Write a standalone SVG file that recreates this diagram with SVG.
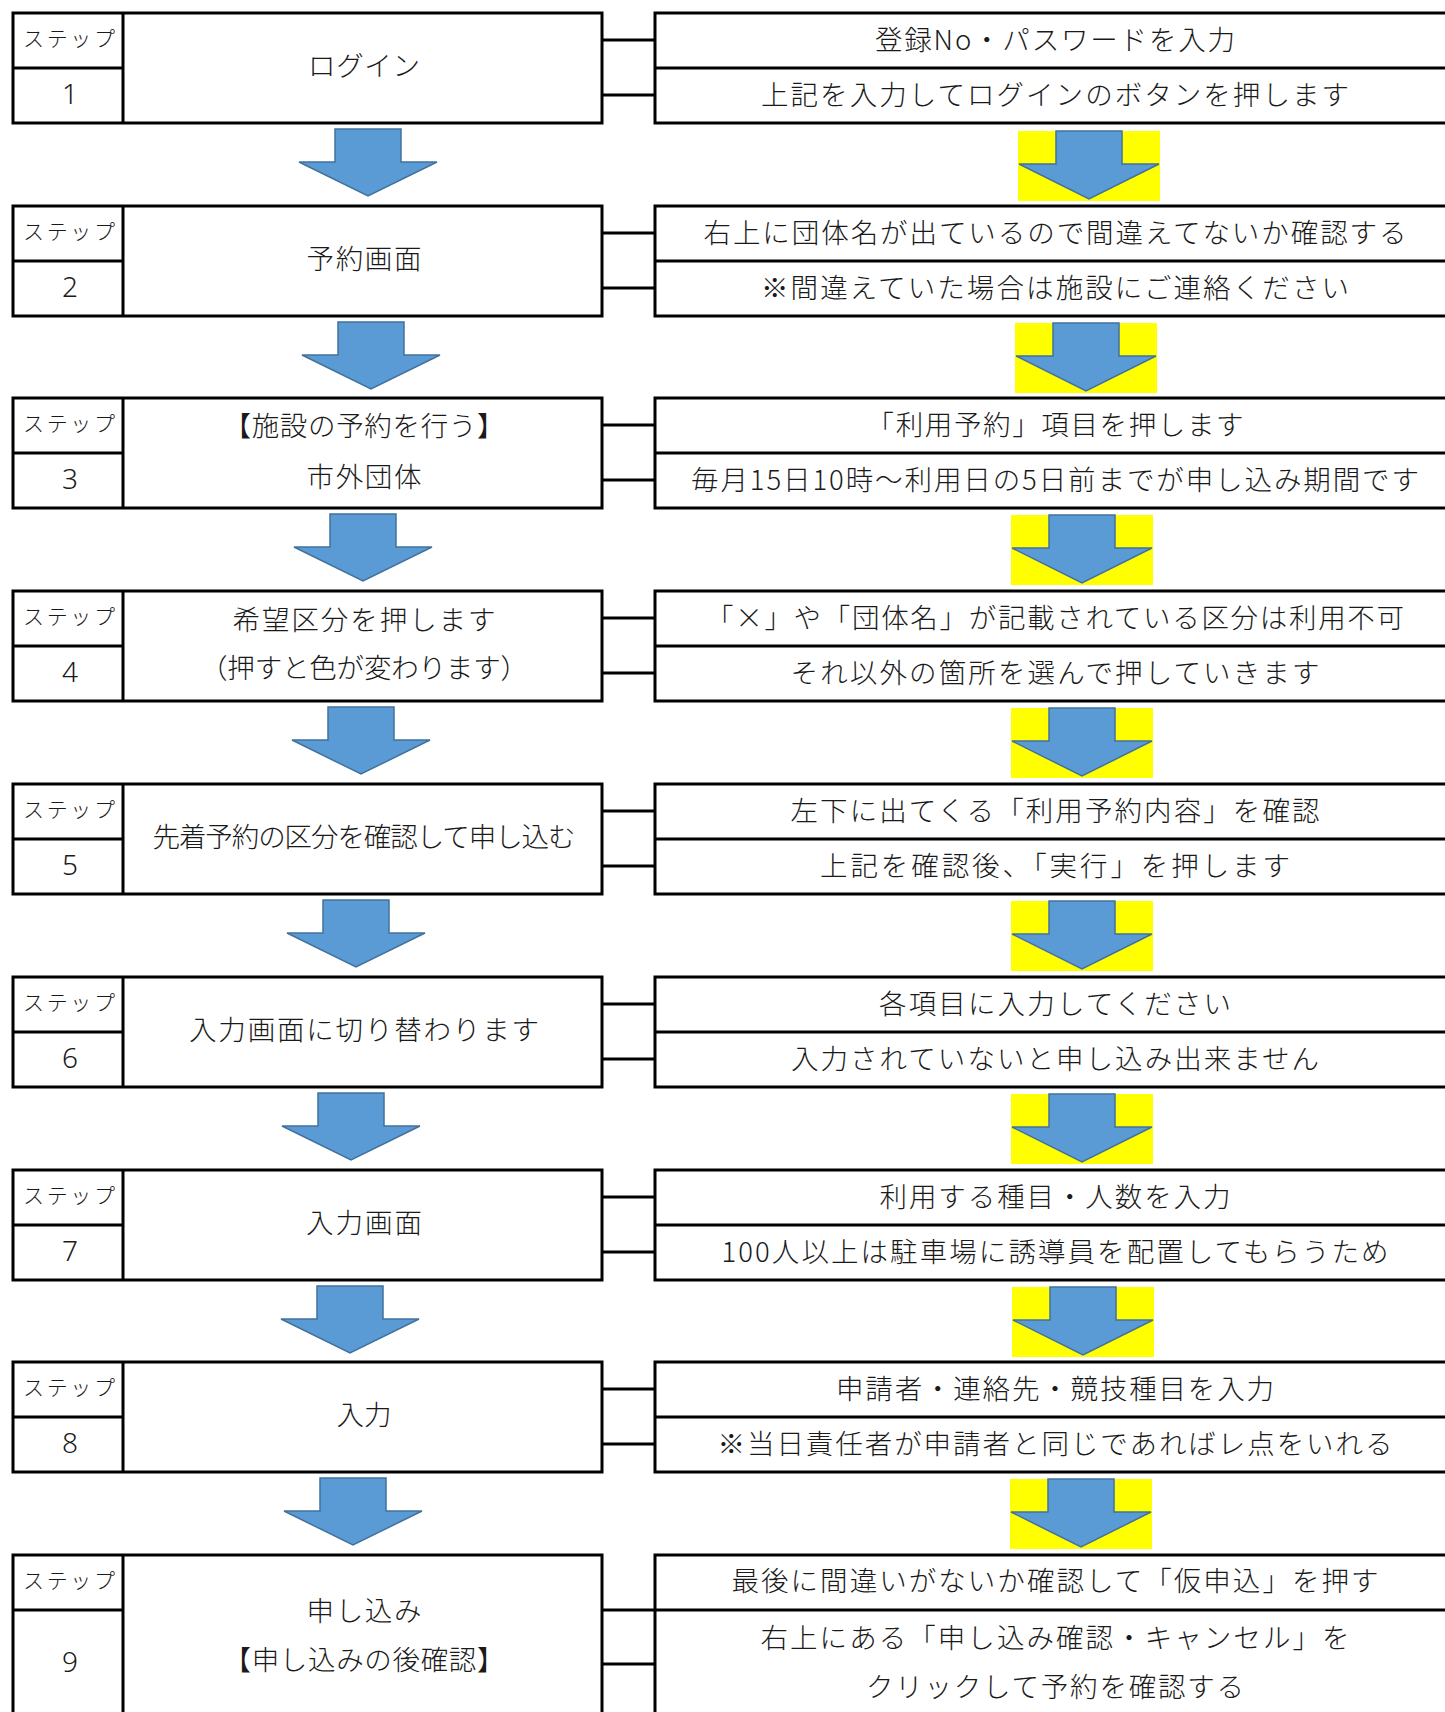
<svg xmlns="http://www.w3.org/2000/svg" width="1445" height="1712" viewBox="0 0 1445 1712">
<style>
.bx{fill:#fff;stroke:#000;stroke-width:3}
.ln{stroke:#000;stroke-width:3;fill:none}
.t{font-family:"Noto Sans CJK JP","Noto Sans",sans-serif;font-size:27.5px;font-weight:300;fill:#1a1a1a;text-anchor:middle;dominant-baseline:central}
.s{font-size:21px}
.n{font-family:"Noto Sans","Noto Sans CJK JP",sans-serif;font-size:28px}
.ar{fill:#5B9BD5;stroke:#41719C;stroke-width:1.5}
.yl{fill:#FFFF00}
</style>
<defs>
<polygon id="arr" class="ar" points="-33,0 33,0 33,33 69,33 0,67 -69,33 -33,33"/>
<g id="yarr"><rect class="yl" x="0" y="0" width="142" height="70"/><polygon class="ar" points="38,0 104,0 104,33 141,33 71,68 1,33 38,33"/></g>
</defs>
<rect width="1445" height="1712" fill="#fff"/>

<g id="connectors">
<path class="ln" d="M602,40H655M602,95H655"/>
<path class="ln" d="M602,233H655M602,288H655"/>
<path class="ln" d="M602,425H655M602,480H655"/>
<path class="ln" d="M602,618H655M602,673H655"/>
<path class="ln" d="M602,811H655M602,866H655"/>
<path class="ln" d="M602,1004H655M602,1059H655"/>
<path class="ln" d="M602,1197H655M602,1252H655"/>
<path class="ln" d="M602,1389H655M602,1444H655"/>
<path class="ln" d="M602,1610H655M602,1664H655"/>
</g>

<g id="arrows">
<use href="#arr" x="368" y="129"/>
<use href="#arr" x="371" y="322"/>
<use href="#arr" x="363" y="514"/>
<use href="#arr" x="361" y="707"/>
<use href="#arr" x="356" y="900"/>
<use href="#arr" x="351" y="1093"/>
<use href="#arr" x="350" y="1286"/>
<use href="#arr" x="353" y="1478"/>
<use href="#yarr" x="1018" y="131"/>
<use href="#yarr" x="1015" y="323"/>
<use href="#yarr" x="1011" y="515"/>
<use href="#yarr" x="1011" y="708"/>
<use href="#yarr" x="1011" y="901"/>
<use href="#yarr" x="1011" y="1094"/>
<use href="#yarr" x="1012" y="1287"/>
<use href="#yarr" x="1010" y="1479"/>
</g>

<g id="step1">
<rect class="bx" x="13" y="13" width="589" height="110"/><path class="ln" d="M123,13V123M13,68H123"/>
<text class="t s" x="69" y="37" textLength="92" lengthAdjust="spacing">ステップ</text>
<text class="t n" x="70" y="93">1</text>
<text class="t" x="364" y="64" textLength="112" lengthAdjust="spacing">ログイン</text>
</g>
<g id="info1">
<rect class="bx" x="655" y="13" width="810" height="110"/><path class="ln" d="M655,68H1460"/>
<text class="t" x="1055" y="38" textLength="360" lengthAdjust="spacing">登録No・パスワードを入力</text>
<text class="t" x="1055" y="93" textLength="588" lengthAdjust="spacing">上記を入力してログインのボタンを押します</text>
</g>

<g id="step2">
<rect class="bx" x="13" y="206" width="589" height="110"/><path class="ln" d="M123,206V316M13,261H123"/>
<text class="t s" x="69" y="230" textLength="92" lengthAdjust="spacing">ステップ</text>
<text class="t n" x="70" y="286">2</text>
<text class="t" x="364" y="257" textLength="115" lengthAdjust="spacing">予約画面</text>
</g>
<g id="info2">
<rect class="bx" x="655" y="206" width="810" height="110"/><path class="ln" d="M655,261H1460"/>
<text class="t" x="1055" y="231" textLength="703" lengthAdjust="spacing">右上に団体名が出ているので間違えてないか確認する</text>
<text class="t" x="1055" y="286" textLength="588" lengthAdjust="spacing">※間違えていた場合は施設にご連絡ください</text>
</g>

<g id="step3">
<rect class="bx" x="13" y="398" width="589" height="110"/><path class="ln" d="M123,398V508M13,453H123"/>
<text class="t s" x="69" y="422" textLength="92" lengthAdjust="spacing">ステップ</text>
<text class="t n" x="70" y="478">3</text>
<text class="t" x="364" y="424" textLength="281" lengthAdjust="spacing">【施設の予約を行う】</text>
<text class="t" x="364" y="475" textLength="115" lengthAdjust="spacing">市外団体</text>
</g>
<g id="info3">
<rect class="bx" x="655" y="398" width="810" height="110"/><path class="ln" d="M655,453H1460"/>
<text class="t" x="1055" y="423" textLength="377" lengthAdjust="spacing">「利用予約」項目を押します</text>
<text class="t" x="1055" y="478" textLength="728" lengthAdjust="spacing">毎月15日10時～利用日の5日前までが申し込み期間です</text>
</g>

<g id="step4">
<rect class="bx" x="13" y="591" width="589" height="110"/><path class="ln" d="M123,591V701M13,646H123"/>
<text class="t s" x="69" y="615" textLength="92" lengthAdjust="spacing">ステップ</text>
<text class="t n" x="70" y="671">4</text>
<text class="t" x="364" y="618" textLength="263" lengthAdjust="spacing">希望区分を押します</text>
<text class="t" x="364" y="666" textLength="328" lengthAdjust="spacing">（押すと色が変わります）</text>
</g>
<g id="info4">
<rect class="bx" x="655" y="591" width="810" height="110"/><path class="ln" d="M655,646H1460"/>
<text class="t" x="1055" y="616" textLength="698" lengthAdjust="spacing">「×」や「団体名」が記載されている区分は利用不可</text>
<text class="t" x="1055" y="671" textLength="529" lengthAdjust="spacing">それ以外の箇所を選んで押していきます</text>
</g>

<g id="step5">
<rect class="bx" x="13" y="784" width="589" height="110"/><path class="ln" d="M123,784V894M13,839H123"/>
<text class="t s" x="69" y="808" textLength="92" lengthAdjust="spacing">ステップ</text>
<text class="t n" x="70" y="864">5</text>
<text class="t" x="364" y="835" textLength="423" lengthAdjust="spacing">先着予約の区分を確認して申し込む</text>
</g>
<g id="info5">
<rect class="bx" x="655" y="784" width="810" height="110"/><path class="ln" d="M655,839H1460"/>
<text class="t" x="1055" y="809" textLength="529" lengthAdjust="spacing">左下に出てくる「利用予約内容」を確認</text>
<text class="t" x="1055" y="864" textLength="470" lengthAdjust="spacing">上記を確認後、「実行」を押します</text>
</g>

<g id="step6">
<rect class="bx" x="13" y="977" width="589" height="110"/><path class="ln" d="M123,977V1087M13,1032H123"/>
<text class="t s" x="69" y="1001" textLength="92" lengthAdjust="spacing">ステップ</text>
<text class="t n" x="70" y="1057">6</text>
<text class="t" x="364" y="1028" textLength="350" lengthAdjust="spacing">入力画面に切り替わります</text>
</g>
<g id="info6">
<rect class="bx" x="655" y="977" width="810" height="110"/><path class="ln" d="M655,1032H1460"/>
<text class="t" x="1055" y="1002" textLength="352" lengthAdjust="spacing">各項目に入力してください</text>
<text class="t" x="1055" y="1057" textLength="528" lengthAdjust="spacing">入力されていないと申し込み出来ません</text>
</g>

<g id="step7">
<rect class="bx" x="13" y="1170" width="589" height="110"/><path class="ln" d="M123,1170V1280M13,1225H123"/>
<text class="t s" x="69" y="1194" textLength="92" lengthAdjust="spacing">ステップ</text>
<text class="t n" x="70" y="1250">7</text>
<text class="t" x="364" y="1221" textLength="116" lengthAdjust="spacing">入力画面</text>
</g>
<g id="info7">
<rect class="bx" x="655" y="1170" width="810" height="110"/><path class="ln" d="M655,1225H1460"/>
<text class="t" x="1055" y="1195" textLength="351" lengthAdjust="spacing">利用する種目・人数を入力</text>
<text class="t" x="1055" y="1250" textLength="667" lengthAdjust="spacing">100人以上は駐車場に誘導員を配置してもらうため</text>
</g>

<g id="step8">
<rect class="bx" x="13" y="1362" width="589" height="110"/><path class="ln" d="M123,1362V1472M13,1417H123"/>
<text class="t s" x="69" y="1386" textLength="92" lengthAdjust="spacing">ステップ</text>
<text class="t n" x="70" y="1442">8</text>
<text class="t" x="364" y="1413" textLength="55" lengthAdjust="spacing">入力</text>
</g>
<g id="info8">
<rect class="bx" x="655" y="1362" width="810" height="110"/><path class="ln" d="M655,1417H1460"/>
<text class="t" x="1055" y="1387" textLength="438" lengthAdjust="spacing">申請者・連絡先・競技種目を入力</text>
<text class="t" x="1055" y="1442" textLength="675" lengthAdjust="spacing">※当日責任者が申請者と同じであればレ点をいれる</text>
</g>

<g id="step9">
<rect class="bx" x="13" y="1555" width="589" height="200"/><path class="ln" d="M123,1555V1755M13,1610H123"/>
<text class="t s" x="69" y="1579" textLength="92" lengthAdjust="spacing">ステップ</text>
<text class="t n" x="70" y="1661">9</text>
<text class="t" x="364" y="1609" textLength="115" lengthAdjust="spacing">申し込み</text>
<text class="t" x="364" y="1658" textLength="281" lengthAdjust="spacing">【申し込みの後確認】</text>
</g>
<g id="info9">
<rect class="bx" x="655" y="1555" width="810" height="200"/><path class="ln" d="M655,1610H1460"/>
<text class="t" x="1055" y="1579" textLength="647" lengthAdjust="spacing">最後に間違いがないか確認して「仮申込」を押す</text>
<text class="t" x="1055" y="1636" textLength="589" lengthAdjust="spacing">右上にある「申し込み確認・キャンセル」を</text>
<text class="t" x="1055" y="1685" textLength="378" lengthAdjust="spacing">クリックして予約を確認する</text>
</g>
</svg>
